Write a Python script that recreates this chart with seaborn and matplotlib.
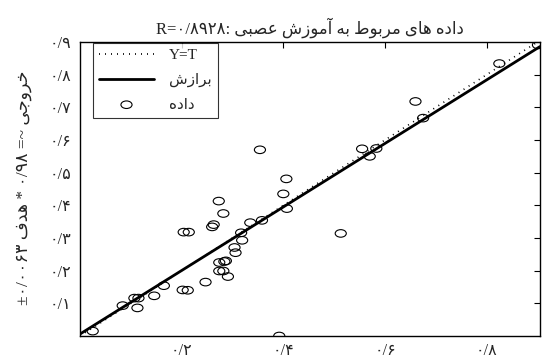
import numpy as np
import pandas as pd
import seaborn as sns
import matplotlib
matplotlib.use("Agg")
import matplotlib.pyplot as plt
from matplotlib.path import Path
from matplotlib.transforms import Affine2D

# ---------------- data ----------------
targets = [0.025, 0.084, 0.107, 0.115, 0.113, 0.146, 0.165, 0.202, 0.212, 0.204,
           0.214, 0.247, 0.260, 0.263, 0.273, 0.282, 0.274, 0.284, 0.287, 0.274,
           0.282, 0.291, 0.304, 0.306, 0.317, 0.319, 0.335, 0.358, 0.354, 0.392,
           0.406, 0.400, 0.407, 0.513, 0.555, 0.570, 0.583, 0.660, 0.675, 0.825,
           0.901]
outputs = [0.015, 0.093, 0.116, 0.116, 0.086, 0.123, 0.154, 0.141, 0.140, 0.318,
           0.318, 0.165, 0.334, 0.341, 0.413, 0.375, 0.225, 0.228, 0.230, 0.199,
           0.199, 0.182, 0.271, 0.255, 0.316, 0.293, 0.347, 0.354, 0.570, 0.000,
           0.481, 0.435, 0.390, 0.314, 0.573, 0.550, 0.574, 0.718, 0.667, 0.834,
           0.891]
fit_x = [0.0, 0.905]
fit_y = [0.006, 0.886]
ident_x = [0.0, 0.905]
ident_y = [0.0, 0.905]
xticks = [0.2, 0.4, 0.6, 0.8]
xtick_labels = ["۰/۲", "۰/۴", "۰/۶", "۰/۸"]
yticks = [0.1, 0.2, 0.3, 0.4, 0.5, 0.6, 0.7, 0.8, 0.9]
ytick_labels = ["۰/۱", "۰/۲", "۰/۳", "۰/۴", "۰/۵", "۰/۶", "۰/۷", "۰/۸", "۰/۹"]
title_words = ["داده", "های", "مربوط", "به", "آموزش", "عصبی"]
r_text = "R=۰/۸۹۲۸"
legend_labels = ["Y=T", "برازش", "داده"]

# ---------------- minimal Persian shaping (presentation forms) ----------------
AR = {
    'ا': ('\ufe8d', '\ufe8e', None, None),
    'آ': ('\ufe81', '\ufe82', None, None),
    'ب': ('\ufe8f', '\ufe90', '\ufe91', '\ufe92'),
    'ج': ('\ufe9d', '\ufe9e', '\ufe9f', '\ufea0'),
    'خ': ('\ufea5', '\ufea6', '\ufea7', '\ufea8'),
    'د': ('\ufea9', '\ufeaa', None, None),
    'ر': ('\ufead', '\ufeae', None, None),
    'ز': ('\ufeaf', '\ufeb0', None, None),
    'ش': ('\ufeb5', '\ufeb6', '\ufeb7', '\ufeb8'),
    'ص': ('\ufeb9', '\ufeba', '\ufebb', '\ufebc'),
    'ط': ('\ufec1', '\ufec2', '\ufec3', '\ufec4'),
    'ع': ('\ufec9', '\ufeca', '\ufecb', '\ufecc'),
    'ف': ('\ufed1', '\ufed2', '\ufed3', '\ufed4'),
    'م': ('\ufee1', '\ufee2', '\ufee3', '\ufee4'),
    'ه': ('\ufee9', '\ufeea', '\ufeeb', '\ufeec'),
    'و': ('\ufeed', '\ufeee', None, None),
    'ی': ('\ufeef', '\ufef0', '\ufef3', '\ufef4'),
}


def shape(word):
    out = []
    for i, ch in enumerate(word):
        if ch not in AR:
            out.append(ch)
            continue
        iso, fin, ini, med = AR[ch]
        prev = word[i - 1] if i > 0 else None
        nxt = word[i + 1] if i + 1 < len(word) else None
        pj = prev in AR and AR[prev][2] is not None
        nj = nxt in AR and ini is not None
        if pj and nj:
            out.append(med)
        elif pj:
            out.append(fin)
        elif nj:
            out.append(ini)
        else:
            out.append(iso)
    return ''.join(reversed(out))


def rtl(words):
    return ' '.join(shape(w) for w in reversed(words))


title_vis = r_text + ": " + rtl(title_words)
ylabel_vis = "±۰/۰۰۶۳ " + shape("هدف") + " * ۰/۹۸ =~ " + shape("خروجی")
leg_vis = [legend_labels[0], shape(legend_labels[1]), shape(legend_labels[2])]

# ---------------- plotting ----------------
sns.set_style("white")
plt.rcParams['font.family'] = ['Liberation Serif', 'DejaVu Sans']
plt.rcParams['xtick.direction'] = 'in'
plt.rcParams['ytick.direction'] = 'in'

fig = plt.figure(figsize=(5.43, 3.59), dpi=100)
ax = fig.add_axes([80 / 543, 1 - 336 / 359, 460 / 543, 294 / 359])

ellipse = Path.unit_circle().transformed(Affine2D().scale(1.0, 0.68))

df_pts = pd.DataFrame({"target": targets, "output": outputs})
df_fit = pd.DataFrame({"x": fit_x, "y": fit_y})
df_id = pd.DataFrame({"x": ident_x, "y": ident_y})

sns.lineplot(data=df_id, x="x", y="y", ax=ax, color="black", linestyle=(0, (0.6, 3.0)),
             linewidth=1.2, label=leg_vis[0], estimator=None)
sns.lineplot(data=df_fit, x="x", y="y", ax=ax, color="black", linewidth=2.0,
             label=leg_vis[1], estimator=None)
sns.scatterplot(data=df_pts, x="target", y="output", ax=ax, marker=ellipse, s=64,
                facecolors="none", edgecolor="black", linewidth=0.8, label=leg_vis[2])

ax.set_xlim(0.0, 0.905)
ax.set_ylim(0.0, 0.9)
ax.set_xticks(xticks)
ax.set_xticklabels(xtick_labels, fontsize=11.5)
ax.set_yticks(yticks)
ax.set_yticklabels(ytick_labels, fontsize=11.5)
ax.tick_params(axis='both', which='both', direction='in', length=4, width=0.8,
               top=True, right=True, color='black')
ax.tick_params(axis='y', pad=6)
ax.tick_params(axis='x', pad=5)
for sp in ax.spines.values():
    sp.set_color('black')
    sp.set_linewidth(1.0)
    sp.set_visible(True)

ax.set_xlabel("")
ax.set_ylabel(ylabel_vis, fontsize=12.5)
ax.yaxis.set_label_coords(-0.105, 0.505)
ax.set_title(title_vis, fontsize=12, pad=6)

leg = ax.legend(loc='upper left', bbox_to_anchor=(0.028, 0.998), borderaxespad=0,
                frameon=True, fancybox=False, edgecolor='black', fontsize=11,
                handlelength=3.6, handletextpad=1.0, borderpad=0.4, labelspacing=0.7)
leg.get_frame().set_linewidth(0.8)

fig.savefig("out.png", dpi=100)
